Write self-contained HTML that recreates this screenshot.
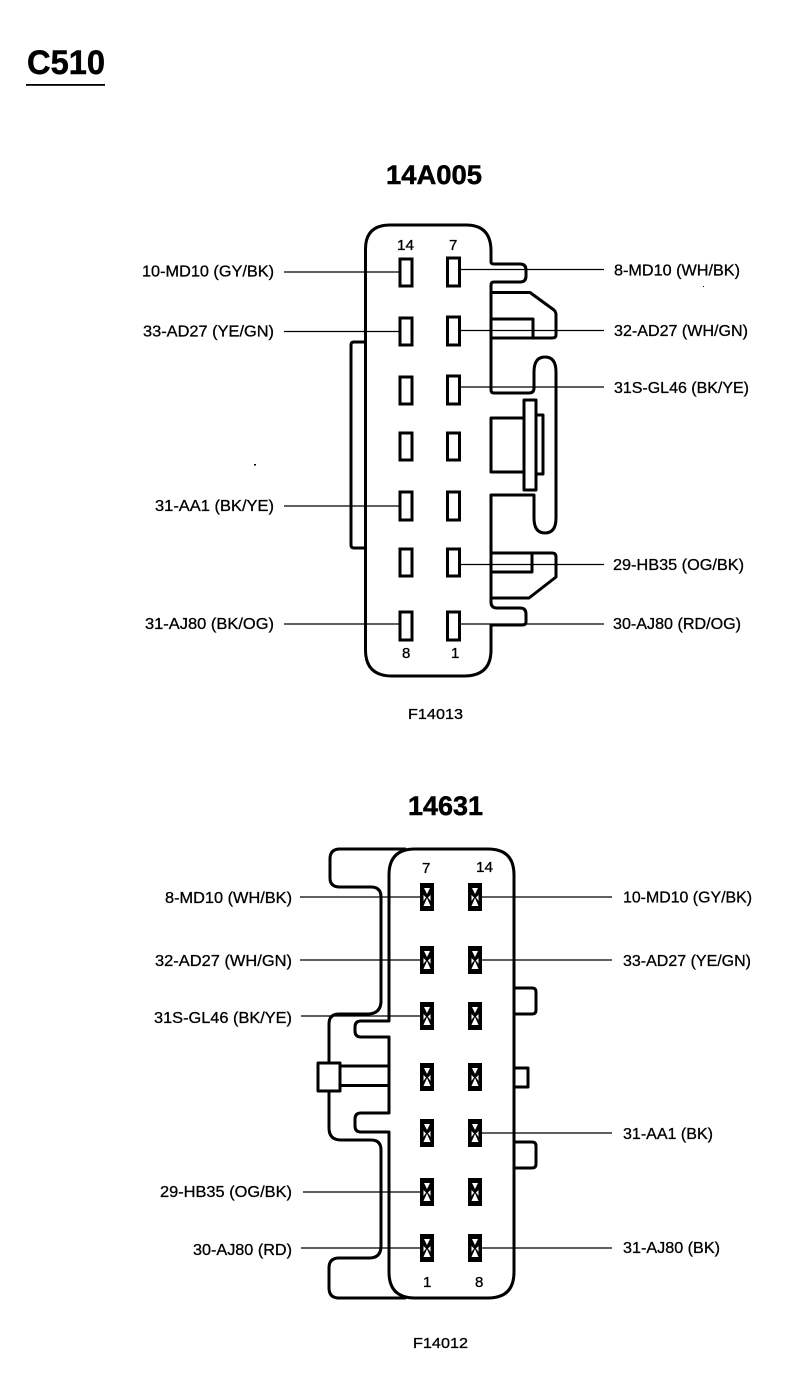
<!DOCTYPE html>
<html>
<head>
<meta charset="utf-8">
<style>
html,body{margin:0;padding:0;background:#fff;}
svg{display:block;}
text{font-family:"Liberation Sans",Arial,sans-serif;fill:#000;}
.l{font-size:16px;font-weight:400;stroke:#000;stroke-width:.3px;}
.n{font-size:15px;stroke:#000;stroke-width:.3px;}
.h{stroke:#000;stroke-width:.5px;}
.o{fill:none;stroke:#000;stroke-width:3;stroke-linejoin:round;stroke-linecap:round;}
.t{fill:none;stroke:#000;stroke-width:1.3;}
.p{fill:#fff;stroke:#000;stroke-width:3;}
</style>
</head>
<body>
<svg width="806" height="1392" viewBox="0 0 806 1392" xmlns="http://www.w3.org/2000/svg">
<defs>
<g id="x">
<rect x="0" y="0" width="14" height="28" fill="#000"/>
<path d="M4 5H10L7 11Z M3.5 23H10.5L7 15Z M3.5 12L6 14.500L3.500 18Z M10.500 12L8 14.500L10.500 18Z" fill="#fff"/>
</g>
</defs>

<text class="h" x="27" y="74" font-size="34" font-weight="700" textLength="78" lengthAdjust="spacingAndGlyphs">C510</text>
<rect x="26" y="84" width="79" height="1.8" fill="#000"/>

<text class="h" x="386" y="184" font-size="27" font-weight="700" textLength="96" lengthAdjust="spacingAndGlyphs">14A005</text>

<!-- top connector outline -->
<path class="o" d="M365.500 262 V249 Q365.500 225 390 225 H466 Q491 225 491 251 V262 Q491 264 494 264 H520 Q526 264 526 270 V276 Q526 282 520 282 H494 Q491 282 491 285 V390 Q491 393 494 393 H529 Q534 393 534 388 V372 Q534 357 545 357 Q556 357 556 372 V518 Q556 533 545 533 Q534 533 534 518 V495 H491 V602 Q491 608 497 608 H520 Q526 608 526 614 V622 Q526 625 522 625 H491 V650 Q491 676 464 676 H392 Q365.500 676 365.500 650 Z"/>
<path class="o" d="M365.500 342 H354 Q351 342 351 345 V545 Q351 548 354 548 H365.500"/>
<path class="o" d="M491 292.500 H530 L554 310 Q556 312 556 315 V335 Q556 338 552 338 H491"/>
<path class="o" d="M491 319 H533 V338"/>
<path class="o" d="M491 418 H523 M523 472 H491 V418"/>
<rect class="o" x="524" y="400" width="12" height="90"/>
<path class="o" d="M536 415 H543 V474 H536"/>
<path class="o" d="M491 553 H552 Q556 553 556 557 V577 L529 598 H491"/>
<path class="o" d="M491 572 H532 V553"/>

<!-- top pins -->
<g class="p">
<rect x="400" y="259" width="12" height="27"/><rect x="447.500" y="258" width="12" height="28"/>
<rect x="400" y="318" width="12" height="27"/><rect x="447.500" y="317" width="12" height="28"/>
<rect x="400" y="377" width="12" height="27"/><rect x="447.500" y="376" width="12" height="28"/>
<rect x="400" y="433" width="12" height="27"/><rect x="447.500" y="433" width="12" height="27"/>
<rect x="400" y="492" width="12" height="28"/><rect x="447.500" y="492" width="12" height="28"/>
<rect x="400" y="549" width="12" height="27"/><rect x="447.500" y="549" width="12" height="27"/>
<rect x="400" y="612" width="12" height="28"/><rect x="447.500" y="612" width="12" height="28"/>
</g>

<!-- top leaders -->
<g class="t">
<path d="M284 272H400M284 331.500H400M284 506H400M284 624H400"/>
<path d="M460 269.500H604M460 330.500H604M460 387H604M460 564.500H604M460 624H604"/>
</g>

<text class="n" x="397" y="250" textLength="17" lengthAdjust="spacingAndGlyphs">14</text>
<text class="n" x="449" y="250">7</text>
<text class="n" x="402" y="658">8</text>
<text class="n" x="451" y="658">1</text>

<text class="l" x="142" y="276.500" textLength="132" lengthAdjust="spacingAndGlyphs">10-MD10 (GY/BK)</text>
<text class="l" x="143" y="336.500" textLength="131" lengthAdjust="spacingAndGlyphs">33-AD27 (YE/GN)</text>
<text class="l" x="155" y="511" textLength="119" lengthAdjust="spacingAndGlyphs">31-AA1 (BK/YE)</text>
<text class="l" x="145" y="629" textLength="129" lengthAdjust="spacingAndGlyphs">31-AJ80 (BK/OG)</text>
<text class="l" x="614" y="275.500" textLength="126" lengthAdjust="spacingAndGlyphs">8-MD10 (WH/BK)</text>
<text class="l" x="614" y="336" textLength="134" lengthAdjust="spacingAndGlyphs">32-AD27 (WH/GN)</text>
<text class="l" x="614" y="393" textLength="135" lengthAdjust="spacingAndGlyphs">31S-GL46 (BK/YE)</text>
<text class="l" x="613" y="570" textLength="131" lengthAdjust="spacingAndGlyphs">29-HB35 (OG/BK)</text>
<text class="l" x="613" y="629" textLength="128" lengthAdjust="spacingAndGlyphs">30-AJ80 (RD/OG)</text>
<text class="n" x="408" y="719" textLength="55" lengthAdjust="spacingAndGlyphs">F14013</text>
<rect x="254" y="464" width="2" height="1.500" fill="#000"/>
<rect x="703" y="286" width="1" height="1" fill="#000"/>

<text class="h" x="408" y="815" font-size="27" font-weight="700" textLength="75" lengthAdjust="spacingAndGlyphs">14631</text>

<!-- bottom connector -->
<path class="o" d="M389 1021 V875 Q389 849 415 849 H488 Q514 849 514 875 V1272 Q514 1298 488 1298 H415 Q389 1298 389 1272 V1132 H361 Q355 1132 355 1126 V1119 Q355 1113 361 1113 H389 V1037 H361 Q355 1037 355 1031 V1027 Q355 1021 361 1021 Z"/>
<path class="o" d="M405 849 H340 Q330 849 330 859 V878 Q330 887 340 887 H371 Q381 887 381 897 V1001 Q381 1013 369 1014 H339 Q329 1014 329 1024 V1062"/>
<path class="o" d="M329 1091 V1128 Q329 1140 341 1140 H371 Q381 1140 381 1150 V1246 Q381 1258 369 1258 H339 Q329 1258 329 1268 V1288 Q329 1298 339 1298 H405"/>
<rect class="o" x="318" y="1063" width="22" height="28"/>
<path class="o" d="M340 1066 H389 M340 1085.500 H389"/>
<path class="o" d="M514 988 H532 Q536 988 536 992 V1010 Q536 1014 532 1014 H514"/>
<path class="o" d="M514 1068 H528 V1087 H514"/>
<path class="o" d="M514 1142 H532 Q536 1142 536 1146 V1164 Q536 1168 532 1168 H514"/>

<!-- bottom leaders -->
<g class="t">
<path d="M300 897H420M300 960H420M301 1016H420M303 1192H420M301 1248H420"/>
<path d="M482 897H612M482 960H612M482 1133H612M482 1248H612"/>
</g>

<!-- bottom pins -->
<use href="#x" x="420" y="883"/><use href="#x" x="468" y="883"/>
<use href="#x" x="420" y="946"/><use href="#x" x="468" y="946"/>
<use href="#x" x="420" y="1002"/><use href="#x" x="468" y="1002"/>
<use href="#x" x="420" y="1063"/><use href="#x" x="468" y="1063"/>
<use href="#x" x="420" y="1119"/><use href="#x" x="468" y="1119"/>
<use href="#x" x="420" y="1178"/><use href="#x" x="468" y="1178"/>
<use href="#x" x="420" y="1234"/><use href="#x" x="468" y="1234"/>

<text class="n" x="422" y="873">7</text>
<text class="n" x="476" y="872" textLength="17" lengthAdjust="spacingAndGlyphs">14</text>
<text class="n" x="423" y="1287">1</text>
<text class="n" x="475" y="1287">8</text>

<text class="l" x="165" y="903" textLength="127" lengthAdjust="spacingAndGlyphs">8-MD10 (WH/BK)</text>
<text class="l" x="155" y="966" textLength="137" lengthAdjust="spacingAndGlyphs">32-AD27 (WH/GN)</text>
<text class="l" x="154" y="1023" textLength="138" lengthAdjust="spacingAndGlyphs">31S-GL46 (BK/YE)</text>
<text class="l" x="160" y="1197" textLength="132" lengthAdjust="spacingAndGlyphs">29-HB35 (OG/BK)</text>
<text class="l" x="193" y="1255" textLength="99" lengthAdjust="spacingAndGlyphs">30-AJ80 (RD)</text>
<text class="l" x="623" y="902.500" textLength="129" lengthAdjust="spacingAndGlyphs">10-MD10 (GY/BK)</text>
<text class="l" x="623" y="966" textLength="128" lengthAdjust="spacingAndGlyphs">33-AD27 (YE/GN)</text>
<text class="l" x="623" y="1139" textLength="90" lengthAdjust="spacingAndGlyphs">31-AA1 (BK)</text>
<text class="l" x="623" y="1253" textLength="97" lengthAdjust="spacingAndGlyphs">31-AJ80 (BK)</text>
<text class="n" x="413" y="1348" textLength="55" lengthAdjust="spacingAndGlyphs">F14012</text>
</svg>
</body>
</html>
